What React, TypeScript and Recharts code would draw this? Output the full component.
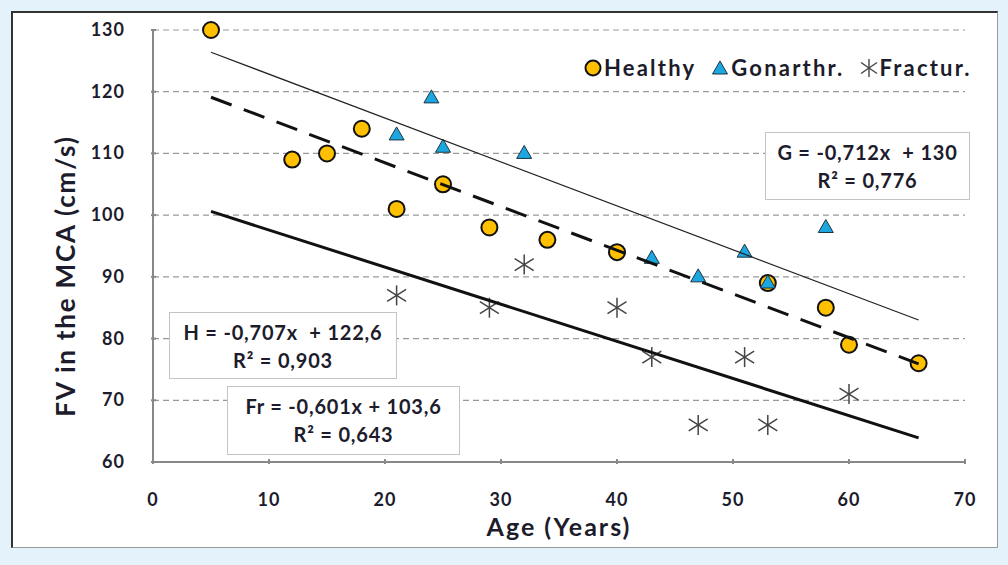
import React from 'react';
import { ScatterChart, Scatter, XAxis, YAxis, CartesianGrid } from 'recharts';

// ages / velocities
const healthyAge = [5, 12, 15, 18, 21, 25, 29, 34, 40, 53, 58, 60, 66];
const healthyFv = [130, 109, 110, 114, 101, 105, 98, 96, 94, 89, 85, 79, 76];

const gonAge = [21, 24, 25, 32, 43, 47, 51, 53, 58];
const gonFv = [113, 119, 111, 110, 93, 90, 94, 89, 98];

const fracAge = [21, 29, 32, 40, 43, 47, 51, 53, 60];
const fracFv = [87, 85, 92, 85, 77, 66, 77, 66, 71];

// trend line end points (x = 5 and x = 66)
const trendAge = [5, 66];
const healthyTrend = [119.1, 75.9];
const gonTrend = [126.4, 83.0];
const fracTrend = [100.6, 63.9];

const xTicks = [0, 10, 20, 30, 40, 50, 60, 70];
const yTicks = [60, 70, 80, 90, 100, 110, 120, 130];

const legendNames = ['Healthy', 'Gonarthr.', 'Fractur.'];

const zip = (xs: number[], ys: number[]) => xs.map((x, i) => ({ x, y: ys[i] }));

const FONT = 'Lato, "Open Sans", sans-serif';
const TEXT = '#1c1c2c';

const CircleDot = (props: any) => {
  const { cx, cy } = props;
  return <circle cx={cx} cy={cy} r={8} fill="#FFC000" stroke="#111" strokeWidth={2} />;
};

const TriangleDot = (props: any) => {
  const { cx, cy } = props;
  return (
    <polygon
      points={`${cx},${cy - 8} ${cx + 7.5},${cy + 5} ${cx - 7.5},${cy + 5}`}
      fill="#1CA7E0"
      stroke="#1d3340"
      strokeWidth={1}
    />
  );
};

const StarDot = (props: any) => {
  const { cx, cy } = props;
  return (
    <g stroke="#444" strokeWidth={1.5}>
      <line x1={cx} y1={cy - 10} x2={cx} y2={cy + 10} />
      <line x1={cx - 9.5} y1={cy - 6} x2={cx + 9.5} y2={cy + 6} />
      <line x1={cx - 9.5} y1={cy + 6} x2={cx + 9.5} y2={cy - 6} />
    </g>
  );
};

const NoDot = () => null;

const XTick = (props: any) => {
  const { x, y, payload } = props;
  return (
    <g>
      <line x1={x} y1={y} x2={x} y2={y - 5} stroke="#888" strokeWidth={2} />
      <text x={x} y={y + 42} textAnchor="middle" fontFamily={FONT} fontWeight={700} fontSize={18} letterSpacing={1} fill={TEXT}>
        {payload.value}
      </text>
    </g>
  );
};

const YTick = (props: any) => {
  const { x, y, payload } = props;
  return (
    <g>
      <line x1={x} y1={y} x2={x + 5} y2={y} stroke="#888" strokeWidth={2} />
      <text x={x - 26} y={y + 6} textAnchor="end" fontFamily={FONT} fontWeight={700} fontSize={18} letterSpacing={1} fill={TEXT}>
        {payload.value}
      </text>
    </g>
  );
};

const LegendBox = () => {
  const icons = [
    <svg width={20} height={20} key="c"><circle cx={10} cy={10} r={7.5} fill="#FFC000" stroke="#111" strokeWidth={2} /></svg>,
    <svg width={20} height={20} key="t"><polygon points="10,3 17.5,16 2.5,16" fill="#1CA7E0" stroke="#1d3340" strokeWidth={1} /></svg>,
    <svg width={20} height={20} key="s">
      <g stroke="#444" strokeWidth={1.4}>
        <line x1={10} y1={1} x2={10} y2={19} />
        <line x1={2} y1={4.5} x2={18} y2={15.5} />
        <line x1={2} y1={15.5} x2={18} y2={4.5} />
      </g>
    </svg>,
  ];
  return (
    <div
      style={{
        position: 'absolute',
        left: 583,
        top: 54,
        display: 'flex',
        alignItems: 'center',
        fontFamily: FONT,
        fontWeight: 700,
        fontSize: 22,
        letterSpacing: 2.2,
        color: TEXT,
        whiteSpace: 'nowrap',
      }}
    >
      {legendNames.map((n, i) => (
        <span key={n} style={{ display: 'flex', alignItems: 'center', marginRight: i < 2 ? 14 : 0 }}>
          {icons[i]}
          <span style={{ marginLeft: 1 }}>{n}</span>
        </span>
      ))}
    </div>
  );
};

const eqBox = (left: number, top: number, width: number, height: number): React.CSSProperties => ({
  position: 'absolute',
  left,
  top,
  width,
  height,
  boxSizing: 'border-box',
  border: '1.5px solid #c4c4c4',
  background: '#fff',
  fontFamily: FONT,
  fontWeight: 700,
  fontSize: 20,
  letterSpacing: 0.8,
  lineHeight: '28px',
  color: TEXT,
  textAlign: 'center',
  paddingTop: 5,
  whiteSpace: 'pre',
});

export default function App() {
  return (
    <div style={{ position: 'absolute', left: 0, top: 0, width: 1008, height: 565, background: '#e4f2fb', overflow: 'hidden' }}>
      <div
        style={{
          position: 'absolute',
          left: 11,
          top: 11,
          width: 987,
          height: 537,
          boxSizing: 'border-box',
          background: '#fff',
          border: '1px solid #999',
          borderTop: '2px solid #333',
          borderLeft: '2px solid #333',
        }}
      />
      <div style={{ position: 'absolute', left: 0, top: 0 }}>
        <ScatterChart width={1008} height={565} margin={{ top: 30, right: 43, bottom: 43, left: 93 }}>
          <CartesianGrid vertical={false} stroke="#999" strokeDasharray="6 4" strokeWidth={1.2} />
          <XAxis
            type="number"
            dataKey="x"
            domain={[0, 70]}
            ticks={xTicks}
            height={60}
            tickSize={0}
            tick={<XTick />}
            axisLine={{ stroke: '#888', strokeWidth: 2 }}
            label={{
              content: (p: any) => (
                <text
                  x={p.viewBox.x + p.viewBox.width / 2}
                  y={p.viewBox.y + 74}
                  textAnchor="middle"
                  fontFamily={FONT}
                  fontWeight={700}
                  fontSize={25}
                  letterSpacing={2}
                  fill={TEXT}
                >
                  Age (Years)
                </text>
              ),
            }}
          />
          <YAxis
            type="number"
            dataKey="y"
            domain={[60, 130]}
            ticks={yTicks}
            width={60}
            tickSize={0}
            tick={<YTick />}
            axisLine={{ stroke: '#888', strokeWidth: 2 }}
            label={{
              content: () => (
                <text
                  x={75}
                  y={276}
                  transform="rotate(-90, 75, 276)"
                  textAnchor="middle"
                  fontFamily={FONT}
                  fontWeight={700}
                  fontSize={26}
                  letterSpacing={1.8}
                  fill={TEXT}
                >
                  FV in the MCA (cm/s)
                </text>
              ),
            }}
          />
          <Scatter name="Healthy" data={zip(healthyAge, healthyFv)} shape={<CircleDot />} isAnimationActive={false} />
          <Scatter name="Gonarthr." data={zip(gonAge, gonFv)} shape={<TriangleDot />} isAnimationActive={false} />
          <Scatter name="Fractur." data={zip(fracAge, fracFv)} shape={<StarDot />} isAnimationActive={false} />
          <Scatter
            data={zip(trendAge, gonTrend)}
            line={{ stroke: '#222', strokeWidth: 1.2 }}
            shape={<NoDot />}
            isAnimationActive={false}
          />
          <Scatter
            data={zip(trendAge, healthyTrend)}
            line={{ stroke: '#111', strokeWidth: 3, strokeDasharray: '22 13' }}
            shape={<NoDot />}
            isAnimationActive={false}
          />
          <Scatter
            data={zip(trendAge, fracTrend)}
            line={{ stroke: '#111', strokeWidth: 3 }}
            shape={<NoDot />}
            isAnimationActive={false}
          />
        </ScatterChart>
      </div>
      <LegendBox />
      <div style={eqBox(765, 132, 205, 68)}>{'G = -0,712x  + 130\nR² = 0,776'}</div>
      <div style={eqBox(169, 312, 228, 67)}>{'H = -0,707x  + 122,6\nR² = 0,903'}</div>
      <div style={eqBox(227, 386, 233, 69)}>{'Fr = -0,601x + 103,6\nR² = 0,643'}</div>
    </div>
  );
}
